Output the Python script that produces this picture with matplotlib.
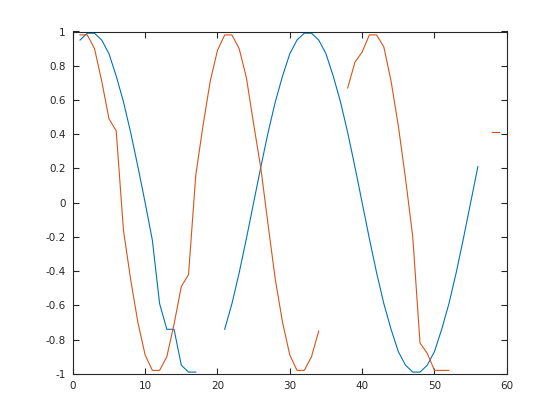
import numpy as np
import matplotlib
matplotlib.use("Agg")
import matplotlib.pyplot as plt

plt.rcParams['axes.unicode_minus'] = False
plt.rcParams['font.family'] = ['DejaVu Sans']

nan = np.nan

blue_y = [0.95, 0.99, 0.99, 0.95, 0.87, 0.74, 0.59, 0.41, 0.21, 0.0,
          -0.22, -0.59, -0.74, -0.74, -0.95, -0.99, -0.99, nan, nan, nan,
          -0.74, -0.59, -0.41, -0.21, 0.0, 0.21, 0.41, 0.59, 0.74, 0.87,
          0.95, 0.99, 0.99, 0.95, 0.87, 0.74, 0.59, 0.41, 0.21, 0.0,
          -0.21, -0.41, -0.59, -0.74, -0.87, -0.95, -0.99, -0.99, -0.95, -0.87,
          -0.74, -0.59, -0.41, -0.21, 0.0, 0.21]

orange_y = [0.98, 0.98, 0.90, 0.71, 0.49, 0.42, -0.16, -0.45, -0.70, -0.89,
            -0.98, -0.98, -0.90, -0.71, -0.49, -0.42, 0.16, 0.45, 0.71, 0.89,
            0.98, 0.98, 0.90, 0.73, 0.46, 0.20, -0.13, -0.45, -0.70, -0.89,
            -0.98, -0.98, -0.90, -0.75, nan, nan, nan, 0.67, 0.82, 0.88,
            0.98, 0.98, 0.91, 0.71, 0.45, 0.14, -0.20, -0.82, -0.88, -0.98,
            -0.98, -0.98, nan, nan, nan, nan, nan, 0.41, 0.41]

blue_x = np.arange(1, len(blue_y) + 1)
orange_x = np.arange(1, len(orange_y) + 1)

xticks = [0, 10, 20, 30, 40, 50, 60]
yticks = [-1, -0.8, -0.6, -0.4, -0.2, 0, 0.2, 0.4, 0.6, 0.8, 1]
ytick_labels = ['-1', '-0.8', '-0.6', '-0.4', '-0.2', '0', '0.2', '0.4', '0.6', '0.8', '1']

fig = plt.figure(figsize=(5.6, 4.2), dpi=100)
ax = fig.add_axes([0.13, 0.11, 0.775, 0.815])

ax.plot(blue_x, np.array(blue_y, dtype=float), color='#0072BD', linewidth=0.8)
ax.plot(orange_x, np.array(orange_y, dtype=float), color='#D95319', linewidth=0.8)

ax.set_xlim(0, 60)
ax.set_ylim(-1, 1)
ax.set_xticks(xticks)
ax.set_xticklabels([str(v) for v in xticks])
ax.set_yticks(yticks)
ax.set_yticklabels(ytick_labels)

edge = '#262626'
for s in ax.spines.values():
    s.set_color(edge)
    s.set_linewidth(0.8)
ax.tick_params(direction='in', length=4.5, width=0.8, colors=edge,
               labelsize=7.5, top=True, right=True, pad=5)

fig.savefig('out.png', dpi=100)
